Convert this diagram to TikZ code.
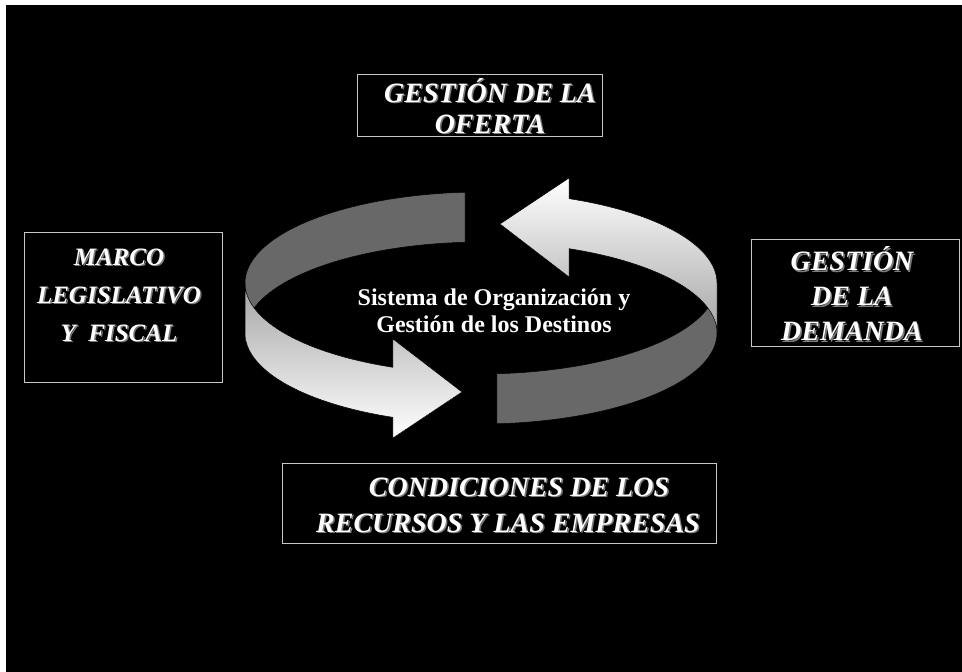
\documentclass[tikz,border=0pt]{standalone}
\usepackage{fontspec}
\setmainfont{Liberation Serif}
\usetikzlibrary{positioning,calc}
\definecolor{ribbongray}{HTML}{686868}
\definecolor{framegray}{HTML}{C8C8C8}
\definecolor{shadowgray}{HTML}{7A7A7A}

\begin{document}
\begin{tikzpicture}[x=1pt,y=-1pt,
      framebox/.style={draw=framegray,line width=1pt,inner sep=0pt},
      boxtext/.style={text=white,align=center,inner sep=0pt,
        font=\fontsize{28}{#1}\selectfont\bfseries\itshape},
      boxtext/.default=34,
      boxshadow/.style={boxtext=#1,text=shadowgray,xshift=1.5pt,yshift=-1.5pt},
      boxshadow/.default=34,
      ribbonback/.style={fill=ribbongray,draw=black,line width=0.5pt},
      ribbonfront/.style={draw=black,line width=0.5pt}]
    % page and black background
    \fill[white] (0,0) rectangle (962,672);
    \fill[black] (6,5) rectangle (962,672);
    \useasboundingbox (0,0) rectangle (962,672);

    % left ribbon arrow
    \draw[ribbonback] plot[domain=94.1:180,samples=40,variable=\t] ({482+237*cos(\t)},{283-91*sin(\t)})
      -- plot[domain=180:94.1,samples=40,variable=\t] ({482+237*cos(\t)},{333-91*sin(\t)}) -- cycle;
    \shade[ribbonfront,top color=black!35,bottom color=white]
      plot[domain=180:247.9,samples=40,variable=\t] ({482+237*cos(\t)},{283-91*sin(\t)})
      -- (393,339) -- (462,392) -- (393,438)
      -- plot[domain=247.9:180,samples=40,variable=\t] ({482+237*cos(\t)},{333-91*sin(\t)}) -- cycle;

    % right ribbon arrow
    \draw[ribbonback] plot[domain=94.1:180,samples=40,variable=\t] ({480-237*cos(\t)},{283+91*sin(\t)})
      -- plot[domain=180:94.1,samples=40,variable=\t] ({480-237*cos(\t)},{333+91*sin(\t)}) -- cycle;
    \shade[ribbonfront,top color=white,bottom color=black!35]
      plot[domain=180:247.9,samples=40,variable=\t] ({480-237*cos(\t)},{333+91*sin(\t)})
      -- (569,277) -- (500,224) -- (569,178)
      -- plot[domain=247.9:180,samples=40,variable=\t] ({480-237*cos(\t)},{283+91*sin(\t)}) -- cycle;

    % centre text
    \node[text=white,align=center,inner sep=0pt,font=\fontsize{24}{27}\selectfont\bfseries] (sistema)
      at (494,311) {Sistema de Organización y\\Gestión de los Destinos};

    % frames
    \node[framebox,minimum width=245,minimum height=62] (oferta) at (479.5,105) {};
    \node[framebox,minimum width=198,minimum height=150] (marco) at (123,307) {};
    \node[framebox,minimum width=208,minimum height=107] (demanda) at (855,292.5) {};
    \node[framebox,minimum width=434,minimum height=80] (condiciones) at (499,503) {};

    % labels with shadow
    \node[boxshadow=31] (oferta shadow) at (490,106) {GESTIÓN DE LA\\OFERTA};
    \node[boxtext=31] (oferta text) at (490,106) {GESTIÓN DE LA\\OFERTA};
    \node[boxshadow=38,font=\fontsize{25}{38}\selectfont\bfseries\itshape] (marco shadow) at (119,295) {MARCO\\LEGISLATIVO\\Y~~FISCAL};
    \node[boxtext=38,font=\fontsize{25}{38}\selectfont\bfseries\itshape] (marco text) at (119,295) {MARCO\\LEGISLATIVO\\Y~~FISCAL};
    \node[boxshadow=35] (demanda shadow) at (852,294) {GESTIÓN\\DE LA\\DEMANDA};
    \node[boxtext=35] (demanda text) at (852,294) {GESTIÓN\\DE LA\\DEMANDA};
    \node[boxshadow=36] (condiciones shadow) at (508,505) {\hspace*{22pt}CONDICIONES DE LOS\\RECURSOS Y LAS EMPRESAS};
    \node[boxtext=36] (condiciones text) at (508,505) {\hspace*{22pt}CONDICIONES DE LOS\\RECURSOS Y LAS EMPRESAS};
  \end{tikzpicture}
\end{document}
